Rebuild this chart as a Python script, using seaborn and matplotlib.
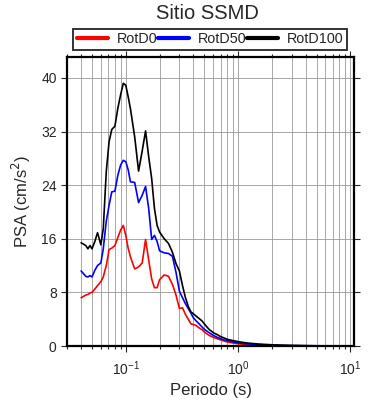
import numpy as np
import pandas as pd
import matplotlib
matplotlib.use("Agg")
from matplotlib import pyplot as plt
from matplotlib.ticker import LogLocator, MultipleLocator
import seaborn as sns

# Periods (s) and spectral accelerations
periodo = [0.040, 0.044, 0.046, 0.048, 0.050, 0.053, 0.056, 0.060, 0.063, 0.067,
           0.071, 0.075, 0.080, 0.085, 0.090, 0.095, 0.100, 0.105, 0.110, 0.120,
           0.130, 0.140, 0.150, 0.160, 0.170, 0.180, 0.190, 0.200, 0.220, 0.240,
           0.260, 0.280, 0.300, 0.320, 0.340, 0.360, 0.380, 0.400, 0.420, 0.450,
           0.480, 0.500, 0.550, 0.600, 0.650, 0.700, 0.750, 0.800, 0.900, 1.0,
           1.2, 1.5, 2.0, 2.5, 3.0, 4.0, 5.0, 6.0, 8.0, 10.0]

rotd0 = [7.2, 7.6, 7.7, 7.9, 8.0, 8.5, 9.0, 9.6, 10.3, 12.0,
         14.4, 14.6, 15.0, 16.2, 17.3, 18.0, 16.5, 14.6, 13.3, 11.5,
         11.8, 12.4, 15.9, 12.8, 10.0, 8.7, 8.7, 9.9, 10.6, 10.4,
         9.2, 7.6, 5.6, 5.7, 4.7, 4.0, 3.3, 3.2, 3.1, 2.7,
         2.4, 2.1, 1.6, 1.3, 1.1, 0.9, 0.75, 0.6, 0.45, 0.33,
         0.22, 0.14, 0.08, 0.05, 0.04, 0.025, 0.018, 0.012, 0.008, 0.005]

rotd50 = [11.2, 10.4, 10.3, 10.5, 10.3, 11.3, 12.0, 12.4, 14.5, 18.6,
          21.0, 23.0, 23.1, 25.5, 27.0, 27.7, 27.5, 26.3, 24.5, 24.4,
          21.4, 22.5, 23.8, 20.5, 15.9, 16.5, 15.6, 14.2, 13.9, 13.8,
          13.4, 11.0, 8.2, 7.2, 6.3, 5.6, 4.9, 4.2, 3.8, 3.3,
          2.8, 2.5, 2.0, 1.6, 1.3, 1.1, 0.9, 0.8, 0.6, 0.45,
          0.32, 0.2, 0.12, 0.08, 0.06, 0.04, 0.025, 0.018, 0.012, 0.008]

rotd100 = [15.4, 15.0, 14.5, 15.0, 14.5, 15.6, 16.9, 15.1, 17.5, 26.0,
           30.5, 32.3, 32.8, 35.5, 37.5, 39.2, 38.9, 37.2, 35.4, 31.2,
           26.1, 29.1, 32.1, 28.2, 25.0, 20.5, 18.0, 17.0, 16.0, 15.3,
           14.0, 12.3, 11.2, 9.0, 7.2, 5.9, 5.1, 4.8, 4.5, 4.1,
           3.7, 3.3, 2.5, 2.0, 1.7, 1.4, 1.2, 1.0, 0.8, 0.65,
           0.45, 0.3, 0.18, 0.12, 0.08, 0.05, 0.03, 0.02, 0.015, 0.01]

series = {"RotD0": (rotd0, "red"), "RotD50": (rotd50, "blue"), "RotD100": (rotd100, "black")}

sns.set_style("ticks")
plt.rcParams['font.family'] = ['Liberation Sans', 'DejaVu Sans']

fig = plt.figure(figsize=(3.9, 4.0), dpi=100)
ax = fig.add_axes([0.172, 0.135, 0.736, 0.7225])
ax.set_xscale("log")

for name, (vals, col) in series.items():
    sns.lineplot(x=periodo, y=vals, ax=ax, color=col, linewidth=1.2, label=name)

ax.set_xlim(0.03, 10.8)
ax.set_ylim(0, max(rotd100) * 1.1)

# axes look
ax.xaxis.set_major_locator(LogLocator(base=10))
ax.xaxis.set_minor_locator(LogLocator(base=10, subs=np.arange(2, 10)))
ax.yaxis.set_major_locator(MultipleLocator(8))
ax.grid(True, which="both", axis="x", color="#999999", linewidth=0.6)
ax.grid(True, which="major", axis="y", color="#999999", linewidth=0.6)
ax.tick_params(which="both", direction="out", top=True, right=True, labelsize=10, width=0.8)
ax.tick_params(which="major", length=4)
ax.tick_params(which="minor", length=2.5)
ax.tick_params(axis="x", which="major", pad=6)
for sp in ax.spines.values():
    sp.set_linewidth(1.6)
    sp.set_color("black")

ax.set_xlabel("Periodo (s)", fontsize=12, labelpad=3)
ax.set_ylabel("PSA (cm/s$^2$)", fontsize=12, labelpad=6)

leg = ax.legend(loc="lower left", bbox_to_anchor=(0.021, 1.024, 0.955, 0.07), mode="expand",
                ncol=3, frameon=True, fancybox=False, fontsize=10.4, handlelength=2.2,
                borderpad=0.25, columnspacing=1.0, handletextpad=0.6, borderaxespad=0)
leg.get_frame().set_edgecolor("black")
leg.get_frame().set_linewidth(1.4)
for ln in leg.get_lines():
    ln.set_linewidth(3)

fig.text(0.532, 0.966, "Sitio SSMD", ha="center", va="center", fontsize=14.5)

fig.savefig("out.png", dpi=100)
